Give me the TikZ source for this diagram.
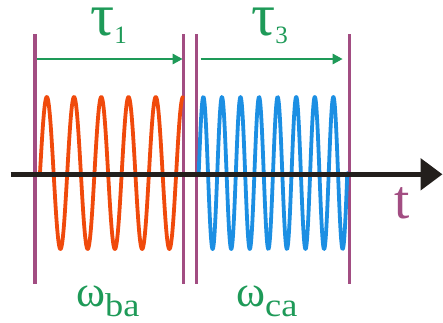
\documentclass[tikz,border=0pt]{standalone}
\usepackage{fontspec}
\setmainfont{Liberation Serif}
\usetikzlibrary{arrows.meta}
\definecolor{pur}{HTML}{A24D82}
\definecolor{grn}{HTML}{1E9A58}
\definecolor{wred}{HTML}{F04A0C}
\definecolor{wblue}{HTML}{1C8FE3}
\definecolor{axblack}{HTML}{231F1C}
\tikzset{
  marker/.style={draw=pur, line width=3.3pt},
  span/.style={draw=grn, line width=2.8pt, -{Triangle[length=10pt,width=10pt]}},
  wave/.style={line width=3.8pt, line cap=round, line join=round},
  axisline/.style={draw=axblack, line width=5.5pt, -{Triangle[length=22pt,width=31pt]}},
  lab/.style={inner sep=0pt, anchor=base west, text=grn},
}
\begin{document}
\begin{tikzpicture}[x=1pt,y=-1pt]
\useasboundingbox (0,0) rectangle (443,322);
% marker lines
\coordinate (m1t) at (35,34);   \coordinate (m1b) at (35,284);
\coordinate (m2t) at (183.3,34); \coordinate (m2b) at (183.3,284);
\coordinate (m3t) at (196.7,34); \coordinate (m3b) at (196.7,284);
\coordinate (m4t) at (349.3,34); \coordinate (m4b) at (349.3,284);
\draw[marker] (m1t) -- (m1b);
\draw[marker] (m2t) -- (m2b);
\draw[marker] (m3t) -- (m3b);
\draw[marker] (m4t) -- (m4b);
% waves
\draw[wave, wred] plot[domain=40:183, samples=500] (\x, {173 - 76*sin(13.2159*(\x-40))});
\draw[wave, wblue] plot[domain=198.7:347.3, samples=600] (\x, {173 - 76*sin(19.3809*(\x-198.7))});
% span arrows
\coordinate (s1a) at (36.5,59); \coordinate (s1b) at (182.7,59);
\coordinate (s2a) at (200.7,59); \coordinate (s2b) at (342.7,59);
\draw[span] (s1a) -- (s1b);
\draw[span] (s2a) -- (s2b);
% time axis
\coordinate (ax0) at (10.7,174.3);
\coordinate (ax1) at (442.5,174.3);
\draw[axisline] (ax0) -- (ax1);
% labels
\node[lab] (tau1) at (90,35) {\fontsize{60}{60}\selectfont τ\raisebox{-8pt}{\fontsize{25}{25}\selectfont 1}};
\node[lab] (tau3) at (251,35) {\fontsize{60}{60}\selectfont τ\raisebox{-8pt}{\fontsize{25}{25}\selectfont 3}};
\node[lab] (wba) at (76,306) {\fontsize{44}{44}\selectfont ω\raisebox{-10.5pt}{\scalebox{1.1}[1]{\fontsize{33}{33}\selectfont ba}}};
\node[lab] (wca) at (236,306) {\fontsize{44}{44}\selectfont ω\raisebox{-10.5pt}{\scalebox{1.1}[1]{\fontsize{33}{33}\selectfont ca}}};
\node[inner sep=0pt, anchor=base west, text=pur] (tlab) at (394,218) {\fontsize{55}{55}\selectfont t};
\end{tikzpicture}
\end{document}
